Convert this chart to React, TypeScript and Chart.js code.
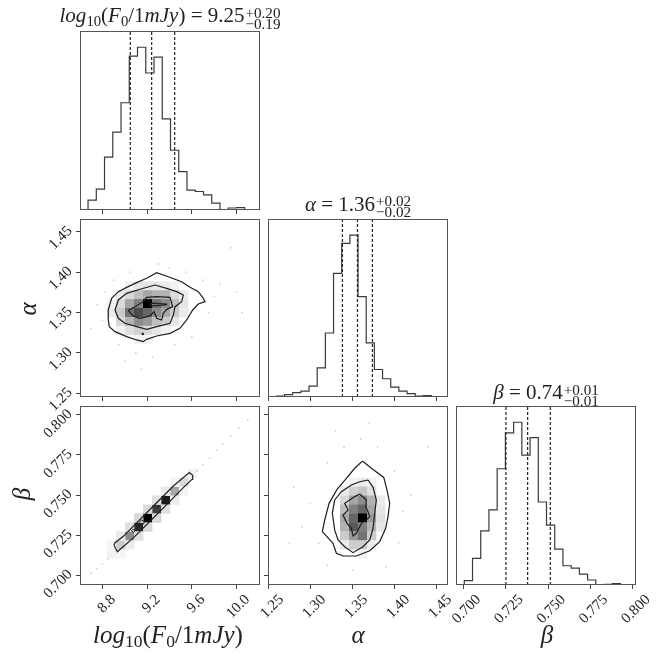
import React, { useEffect, useRef } from 'react'
import { Chart, registerables } from 'chart.js'

Chart.register(...registerables)

// axis ranges
const logFRange = [8.6, 10.21]
const alphaXRange = [1.2495, 1.4638]
const alphaYRange = [1.2454, 1.4657]
const betaXRange = [0.6955, 0.8018]
const betaYRange = [0.6938, 0.8056]

const logFTicks = ['8.8', '9.2', '9.6', '10.0']
const alphaTicks = ['1.25', '1.30', '1.35', '1.40', '1.45']
const betaTicks = ['0.700', '0.725', '0.750', '0.775', '0.800']

// 1D marginal histograms, 20 bins between the given edges
const logFBins = [8.672, 10.147]
const logFCounts = [15, 30, 63, 160, 236, 325, 466, 493, 415, 463, 276, 181, 116, 60, 56, 46, 21, 1, 6, 7]
const logFQuantiles = [9.05, 9.241, 9.447]

const alphaBins = [1.2595, 1.4539]
const alphaCounts = [2, 3, 7, 13, 18, 33, 88, 193, 373, 463, 488, 303, 163, 83, 55, 30, 18, 10, 3, 4]
const alphaQuantiles = [1.3381, 1.356, 1.3738]

const betaBins = [0.7004, 0.7975]
const betaCounts = [3, 13, 80, 163, 226, 350, 458, 490, 391, 444, 250, 180, 108, 58, 51, 33, 15, 0, 2, 4]
const betaQuantiles = [0.725, 0.7378, 0.7512]

// alpha vs log10(F0): 2D density (bin col, bin row, density) on a 20x20 grid, contours, stray samples
const aFCells = [
  [5, 12, 0.05], [6, 12, 0.1], [7, 12, 0.1], [8, 12, 0.1], [9, 12, 0.08], [10, 12, 0.05],
  [4, 11, 0.08], [5, 11, 0.15], [6, 11, 0.25], [7, 11, 0.35], [8, 11, 0.3], [9, 11, 0.3], [10, 11, 0.15], [11, 11, 0.08],
  [3, 10, 0.05], [4, 10, 0.15], [5, 10, 0.35], [6, 10, 0.5], [7, 10, 1], [8, 10, 0.55], [9, 10, 0.45], [10, 10, 0.25], [11, 10, 0.1],
  [3, 9, 0.08], [4, 9, 0.2], [5, 9, 0.55], [6, 9, 0.7], [7, 9, 0.6], [8, 9, 0.45], [9, 9, 0.35], [10, 9, 0.2], [11, 9, 0.08],
  [4, 8, 0.15], [5, 8, 0.3], [6, 8, 0.45], [7, 8, 0.4], [8, 8, 0.25], [9, 8, 0.2], [10, 8, 0.1],
  [4, 7, 0.05], [5, 7, 0.12], [6, 7, 0.18], [7, 7, 0.15], [8, 7, 0.1], [9, 7, 0.05],
  [6, 6, 0.05], [7, 6, 0.05],
]
const aFOuter = [
  [8.853, 1.3531], [8.883, 1.3675], [8.943, 1.3758], [9.017, 1.3811], [9.107, 1.3869], [9.196, 1.3923],
  [9.286, 1.3993], [9.39, 1.3943], [9.509, 1.3881], [9.584, 1.3811], [9.658, 1.3758], [9.697, 1.3688],
  [9.718, 1.3634], [9.658, 1.3605], [9.608, 1.3531], [9.554, 1.3407], [9.494, 1.3304], [9.405, 1.3242],
  [9.286, 1.3209], [9.196, 1.3168], [9.166, 1.3139], [9.107, 1.316], [9.017, 1.3201], [8.913, 1.3263],
  [8.862, 1.3325], [8.853, 1.3407],
]
const aFMid = [
  [8.913, 1.3531], [8.943, 1.3655], [9.017, 1.3737], [9.137, 1.3787], [9.271, 1.384], [9.375, 1.3799],
  [9.465, 1.3758], [9.524, 1.3716], [9.509, 1.3634], [9.45, 1.3572], [9.435, 1.3469], [9.405, 1.3366],
  [9.286, 1.3325], [9.196, 1.3292], [9.107, 1.3325], [9.002, 1.3366], [8.943, 1.3428],
]
const aFInner = [
  [9.032, 1.3523], [9.092, 1.3572], [9.166, 1.3634], [9.196, 1.3688], [9.286, 1.3696], [9.405, 1.3688],
  [9.429, 1.3572], [9.375, 1.3539], [9.345, 1.349], [9.33, 1.3407], [9.286, 1.3428], [9.262, 1.351],
  [9.226, 1.3457], [9.137, 1.3428], [9.077, 1.3457],
]
const aFCore = [[9.23, 1.3615], [9.375, 1.3605], [9.375, 1.3595], [9.23, 1.358]]
const aFSpot = [[9.155, 1.3245], [9.165, 1.3245], [9.165, 1.3225], [9.155, 1.3225]]
const aFSamples = [
  [8.75, 1.36], [8.8, 1.34], [8.82, 1.375], [8.9, 1.39], [8.95, 1.31], [9.05, 1.4], [9.1, 1.3], [9.3, 1.41],
  [9.4, 1.405], [9.55, 1.4], [9.7, 1.39], [9.75, 1.35], [9.8, 1.37], [9.85, 1.385], [9.6, 1.32], [9.45, 1.31],
  [9.25, 1.295], [9.0, 1.29], [10.0, 1.375], [10.05, 1.35], [9.95, 1.43], [9.15, 1.28], [8.7, 1.33],
]

// beta vs log10(F0)
const bFCells = [
  [3, 3, 0.05], [4, 4, 0.2], [5, 5, 0.45], [6, 6, 0.85], [7, 7, 1], [8, 8, 0.75], [9, 9, 0.9], [10, 10, 0.35], [11, 11, 0.15], [12, 12, 0.05],
  [4, 3, 0.04], [5, 4, 0.08], [6, 5, 0.12], [7, 6, 0.15], [8, 7, 0.15], [9, 8, 0.12], [10, 9, 0.08], [11, 10, 0.04],
  [3, 4, 0.04], [4, 5, 0.08], [5, 6, 0.12], [6, 7, 0.15], [7, 8, 0.15], [8, 9, 0.12], [9, 10, 0.08], [10, 11, 0.04],
]
const bFOuter = [
  [8.904, 0.7186], [8.934, 0.7146], [9.077, 0.7232], [9.226, 0.7336], [9.375, 0.744], [9.524, 0.7546],
  [9.602, 0.7598], [9.608, 0.7623], [9.578, 0.764], [9.435, 0.7556], [9.286, 0.7452], [9.137, 0.7348],
  [8.988, 0.7242], [8.913, 0.7202],
]
const bFLoops = [
  [[9.062, 0.7277], [9.077, 0.7288], [9.092, 0.7277], [9.077, 0.7266]],
  [[9.28, 0.7427], [9.295, 0.7438], [9.31, 0.7427], [9.295, 0.7416]],
  [[9.128, 0.7327], [9.152, 0.7346], [9.176, 0.7327], [9.152, 0.7308]],
  [[9.342, 0.7475], [9.366, 0.7494], [9.39, 0.7475], [9.366, 0.7456]],
]
const bFSamples = [
  [8.7, 0.701], [8.75, 0.704], [8.8, 0.707], [8.85, 0.71], [9.65, 0.765], [9.7, 0.769], [9.76, 0.773],
  [9.82, 0.778], [9.88, 0.782], [9.95, 0.787], [10.02, 0.792], [10.1, 0.797],
]

// beta vs alpha
const bACells = [
  [9, 11, 0.05], [10, 11, 0.08], [11, 11, 0.05],
  [8, 10, 0.08], [9, 10, 0.18], [10, 10, 0.22], [11, 10, 0.12],
  [8, 9, 0.15], [9, 9, 0.35], [10, 9, 0.45], [11, 9, 0.3], [12, 9, 0.08],
  [8, 8, 0.25], [9, 8, 0.5], [10, 8, 0.6], [11, 8, 0.35], [12, 8, 0.1],
  [8, 7, 0.35], [9, 7, 0.6], [10, 7, 1], [11, 7, 0.4], [12, 7, 0.12],
  [8, 6, 0.3], [9, 6, 0.65], [10, 6, 0.5], [11, 6, 0.3], [12, 6, 0.1],
  [8, 5, 0.2], [9, 5, 0.4], [10, 5, 0.55], [11, 5, 0.2],
  [8, 4, 0.08], [9, 4, 0.2], [10, 4, 0.2], [11, 4, 0.08],
  [10, 3, 0.05],
]
const bAOuter = [
  [1.3619, 0.7712], [1.3726, 0.7667], [1.3873, 0.761], [1.3912, 0.7531], [1.3944, 0.7448], [1.3924, 0.7365],
  [1.3896, 0.7292], [1.3825, 0.7209], [1.3706, 0.7152], [1.3547, 0.7119], [1.3388, 0.7119], [1.3309, 0.7136],
  [1.3269, 0.7198], [1.3142, 0.7271], [1.317, 0.7344], [1.3222, 0.7448], [1.3317, 0.7535], [1.3428, 0.7604],
  [1.3527, 0.7667],
]
const bAMid = [
  [1.3686, 0.7594], [1.3746, 0.7548], [1.3785, 0.7469], [1.3765, 0.7386], [1.3746, 0.7292], [1.3706, 0.7219],
  [1.3626, 0.7177], [1.3507, 0.714], [1.3408, 0.7177], [1.3329, 0.7219], [1.3289, 0.7281], [1.3261, 0.7386],
  [1.3289, 0.7469], [1.3369, 0.7521], [1.3488, 0.7563], [1.3587, 0.7583],
]
const bAInner = [
  [1.3587, 0.7506], [1.3666, 0.7469], [1.3658, 0.7427], [1.3686, 0.7396], [1.3706, 0.7365], [1.3666, 0.7344],
  [1.3607, 0.7323], [1.3547, 0.7261], [1.3507, 0.7244], [1.3488, 0.7292], [1.3436, 0.7323], [1.3388, 0.7375],
  [1.3448, 0.7406], [1.3408, 0.7448], [1.3468, 0.7469], [1.3527, 0.749],
]
const bASamples = [
  [1.3, 0.745], [1.31, 0.72], [1.32, 0.77], [1.34, 0.78], [1.36, 0.785], [1.38, 0.78], [1.4, 0.765], [1.41, 0.74],
  [1.405, 0.72], [1.39, 0.705], [1.35, 0.703], [1.32, 0.706], [1.29, 0.73], [1.28, 0.755], [1.42, 0.75],
  [1.33, 0.79], [1.37, 0.795], [1.44, 0.78], [1.275, 0.72],
]

const SERIF = "'Liberation Serif', 'DejaVu Serif', serif"
const NB = 20
const SIDE = 20
const TOP = 12
const BOT = 20
const LINE = '#1e1e1e'

const line = (pts: number[][], closed = true, width = 1.2) => ({
  data: (closed ? [...pts, pts[0]] : pts).map(([x, y]) => ({ x, y })),
  showLine: true,
  borderColor: LINE,
  borderWidth: width,
  pointRadius: 0,
  fill: false,
  tension: 0,
})

const dots = (pts: number[][]) => ({
  data: pts.map(([x, y]) => ({ x, y })),
  pointRadius: 0.9,
  backgroundColor: 'rgba(0,0,0,0.18)',
  borderWidth: 0,
})

function histSets(bins: number[], counts: number[], quants: number[], yMax: number) {
  const w = (bins[1] - bins[0]) / counts.length
  const pts = [{ x: bins[0], y: 0 }]
  counts.forEach((c, i) => pts.push({ x: bins[0] + i * w, y: c }))
  pts.push({ x: bins[1], y: 0 })
  const sets: any[] = quants.map((q) => ({
    data: [{ x: q, y: 0 }, { x: q, y: yMax }],
    showLine: true,
    borderColor: '#222',
    borderWidth: 1.2,
    borderDash: [3, 2],
    pointRadius: 0,
  }))
  sets.push({ data: pts, showLine: true, stepped: 'after', borderColor: '#3a3a3a', borderWidth: 1.2, pointRadius: 0 })
  return sets
}

const framePlugin = {
  id: 'frame',
  afterDraw(chart: any) {
    const { ctx, chartArea: a } = chart
    ctx.save()
    ctx.strokeStyle = '#555'
    ctx.lineWidth = 1
    ctx.strokeRect(a.left + 0.5, a.top + 0.5, a.right - a.left - 1, a.bottom - a.top - 1)
    ctx.restore()
  },
}

const axis = (range: number[], ticks: string[], labels: boolean, size: number, horizontal: boolean, offset: number) => ({
  type: 'linear',
  min: range[0],
  max: range[1],
  afterBuildTicks: (s: any) => {
    s.ticks = ticks.map((t) => ({ value: parseFloat(t) }))
  },
  afterFit: (s: any) => {
    if (horizontal) {
      s.height = size
      s.paddingLeft = 0
      s.paddingRight = 0
    } else {
      s.width = size
      s.paddingTop = 0
      s.paddingBottom = 0
    }
  },
  ticks: {
    display: labels,
    autoSkip: false,
    minRotation: 45,
    maxRotation: 45,
    padding: horizontal ? 2 : 6,
    labelOffset: offset,
    color: '#222',
    font: { family: SERIF, size: 15 },
    callback: (_v: any, i: number) => ticks[i],
  },
  grid: { drawOnChartArea: false, drawTicks: true, tickLength: 4, color: '#444', lineWidth: 1 },
  border: { display: false },
})

type PanelProps = {
  box: number[]
  xr: number[]
  yr: number[]
  xTicks: string[]
  yTicks?: string[]
  xLabels?: boolean
  yLabels?: boolean
  xOffset: number
  datasets: any[]
  cells?: number[][]
}

function Panel(p: PanelProps) {
  const ref = useRef<HTMLCanvasElement>(null)
  const [left, top, w, h] = p.box
  const yw = p.yTicks ? (p.yLabels ? 62 : 8) : 0
  const xh = p.xLabels ? 52 : 8
  const cw = SIDE + yw + w + SIDE
  const ch = TOP + h + xh + BOT

  useEffect(() => {
    const cellPlugin = {
      id: 'cells',
      beforeDatasetsDraw(chart: any) {
        if (!p.cells) return
        const { ctx, scales } = chart
        const dx = (p.xr[1] - p.xr[0]) / NB
        const dy = (p.yr[1] - p.yr[0]) / NB
        ctx.save()
        for (const [i, j, d] of p.cells) {
          const x0 = scales.x.getPixelForValue(p.xr[0] + i * dx)
          const x1 = scales.x.getPixelForValue(p.xr[0] + (i + 1) * dx)
          const y0 = scales.y.getPixelForValue(p.yr[0] + (j + 1) * dy)
          const y1 = scales.y.getPixelForValue(p.yr[0] + j * dy)
          const g = Math.round(255 * (1 - d))
          ctx.fillStyle = `rgb(${g},${g},${g})`
          ctx.fillRect(x0, y0, x1 - x0 + 0.4, y1 - y0 + 0.4)
        }
        ctx.restore()
      },
    }

    const chart = new Chart(ref.current as HTMLCanvasElement, {
      type: 'scatter',
      data: { datasets: p.datasets },
      options: {
        animation: false,
        responsive: false,
        events: [],
        layout: { padding: { top: TOP, right: SIDE, left: SIDE, bottom: BOT } },
        plugins: { legend: { display: false }, tooltip: { enabled: false } },
        scales: {
          x: axis(p.xr, p.xTicks, !!p.xLabels, xh, true, p.xOffset),
          y: p.yTicks
            ? axis(p.yr, p.yTicks, !!p.yLabels, yw, false, -3)
            : { type: 'linear', display: false, min: p.yr[0], max: p.yr[1] },
        },
      } as any,
      plugins: [cellPlugin, framePlugin],
    })
    return () => chart.destroy()
  }, [])

  return (
    <canvas
      ref={ref}
      width={cw}
      height={ch}
      style={{ position: 'absolute', left: left - yw - SIDE, top: top - TOP, width: cw, height: ch }}
    />
  )
}

const Sub = ({ children }: any) => (
  <span style={{ fontSize: '0.7em', verticalAlign: '-0.25em' }}>{children}</span>
)

const FluxLabel = () => (
  <>
    <i>log</i>
    <Sub>10</Sub>(<i>F</i>
    <Sub>0</Sub>/1<i>mJy</i>)
  </>
)

function Title({ cx, base, sup, sub, children }: any) {
  const fs = 21
  return (
    <div
      style={{
        position: 'absolute',
        left: cx - 160,
        width: 320,
        top: base - 0.84 * fs,
        textAlign: 'center',
        fontSize: fs,
        lineHeight: `${fs}px`,
        whiteSpace: 'nowrap',
      }}
    >
      {children}
      <span
        style={{
          display: 'inline-flex',
          flexDirection: 'column',
          fontSize: '0.72em',
          lineHeight: 0.72,
          position: 'relative',
          top: '-0.3em',
          marginLeft: 1,
          textAlign: 'left',
        }}
      >
        <span>{sup}</span>
        <span>{sub}</span>
      </span>
    </div>
  )
}

function XLabel({ cx, base, children }: any) {
  const fs = 25
  return (
    <div
      style={{
        position: 'absolute',
        left: cx - 120,
        width: 240,
        top: base - 0.84 * fs,
        textAlign: 'center',
        fontSize: fs,
        lineHeight: `${fs}px`,
        whiteSpace: 'nowrap',
      }}
    >
      {children}
    </div>
  )
}

function YLabel({ cx, cy, children }: any) {
  return (
    <div
      style={{
        position: 'absolute',
        left: cx,
        top: cy,
        fontSize: 25,
        lineHeight: 1,
        transform: 'translate(-50%, -50%) rotate(-90deg)',
        whiteSpace: 'nowrap',
      }}
    >
      {children}
    </div>
  )
}

const cols = [80, 268, 456]
const rows = [31, 219, 406]
const heights = [179, 178, 179]
const W = 180

const hmax = (c: number[]) => Math.max(...c) * 1.1

export default function App() {
  const box = (r: number, c: number) => [cols[c], rows[r], W, heights[r]]
  return (
    <div
      style={{
        position: 'absolute',
        left: 0,
        top: 0,
        width: 666,
        height: 657,
        background: '#fff',
        fontFamily: SERIF,
        color: '#222',
        overflow: 'hidden',
      }}
    >
      <Panel
        box={box(0, 0)}
        xr={logFRange}
        yr={[0, hmax(logFCounts)]}
        xTicks={logFTicks}
        xOffset={11}
        datasets={histSets(logFBins, logFCounts, logFQuantiles, hmax(logFCounts))}
      />
      <Panel
        box={box(1, 0)}
        xr={logFRange}
        yr={alphaYRange}
        xTicks={logFTicks}
        yTicks={alphaTicks}
        yLabels
        xOffset={11}
        cells={aFCells}
        datasets={[line(aFOuter), line(aFMid), line(aFInner), line(aFCore), line(aFSpot, true, 1), dots(aFSamples)]}
      />
      <Panel
        box={box(1, 1)}
        xr={alphaXRange}
        yr={[0, hmax(alphaCounts)]}
        xTicks={alphaTicks}
        xOffset={13}
        datasets={histSets(alphaBins, alphaCounts, alphaQuantiles, hmax(alphaCounts))}
      />
      <Panel
        box={box(2, 0)}
        xr={logFRange}
        yr={betaYRange}
        xTicks={logFTicks}
        yTicks={betaTicks}
        xLabels
        yLabels
        xOffset={11}
        cells={bFCells}
        datasets={[line(bFOuter), ...bFLoops.map((l) => line(l, true, 1)), dots(bFSamples)]}
      />
      <Panel
        box={box(2, 1)}
        xr={alphaXRange}
        yr={betaYRange}
        xTicks={alphaTicks}
        yTicks={betaTicks}
        xLabels
        xOffset={13}
        cells={bACells}
        datasets={[line(bAOuter), line(bAMid), line(bAInner), dots(bASamples)]}
      />
      <Panel
        box={box(2, 2)}
        xr={betaXRange}
        yr={[0, hmax(betaCounts)]}
        xTicks={betaTicks}
        xLabels
        xOffset={15}
        datasets={histSets(betaBins, betaCounts, betaQuantiles, hmax(betaCounts))}
      />

      <Title cx={170} base={23} sup="+0.20" sub="−0.19">
        <FluxLabel /> = 9.25
      </Title>
      <Title cx={358} base={211.5} sup="+0.02" sub="−0.02">
        <i>α</i> = 1.36
      </Title>
      <Title cx={546} base={400} sup="+0.01" sub="−0.01">
        <i>β</i> = 0.74
      </Title>

      <XLabel cx={168} base={643}>
        <FluxLabel />
      </XLabel>
      <XLabel cx={358} base={643}>
        <i>α</i>
      </XLabel>
      <XLabel cx={547} base={643}>
        <i>β</i>
      </XLabel>

      <YLabel cx={27} cy={309}>
        <i>α</i>
      </YLabel>
      <YLabel cx={21} cy={494}>
        <i>β</i>
      </YLabel>
    </div>
  )
}
